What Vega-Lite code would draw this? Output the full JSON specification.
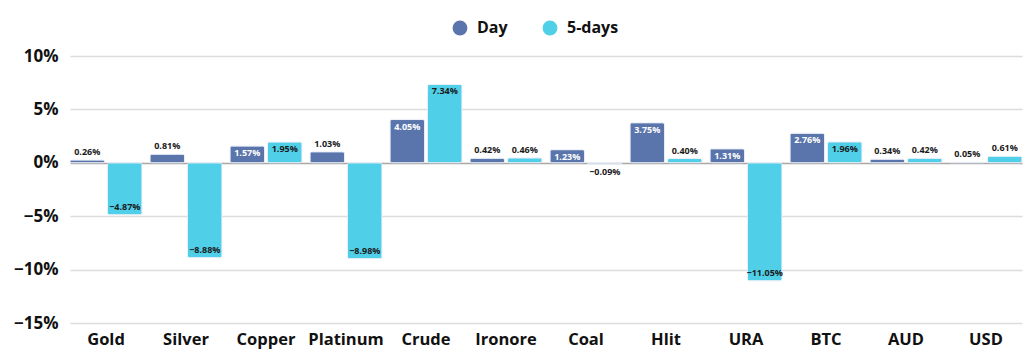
{
  "$schema": "https://vega.github.io/schema/vega-lite/v6.json",
  "autosize": {"type": "none"},
  "width": 952,
  "height": 267,
  "padding": {"left": 70, "top": 56, "right": 2, "bottom": 38},
  "background": "white",
  "config": {
    "view": {"stroke": null},
    "font": "Open Sans",
    "axis": {"labelFont": "Open Sans", "labelFontWeight": "bold", "labelFontSize": 15, "labelColor": "#111"},
    "legend": {"labelFont": "Open Sans"}
  },
  "data": {
    "values": [
      {"asset": "Gold", "series": "Day", "value": 0.0026},
      {"asset": "Gold", "series": "5-days", "value": -0.0487},
      {"asset": "Silver", "series": "Day", "value": 0.0081},
      {"asset": "Silver", "series": "5-days", "value": -0.0888},
      {"asset": "Copper", "series": "Day", "value": 0.0157},
      {"asset": "Copper", "series": "5-days", "value": 0.0195},
      {"asset": "Platinum", "series": "Day", "value": 0.0103},
      {"asset": "Platinum", "series": "5-days", "value": -0.0898},
      {"asset": "Crude", "series": "Day", "value": 0.0405},
      {"asset": "Crude", "series": "5-days", "value": 0.0734},
      {"asset": "Ironore", "series": "Day", "value": 0.0042},
      {"asset": "Ironore", "series": "5-days", "value": 0.0046},
      {"asset": "Coal", "series": "Day", "value": 0.0123},
      {"asset": "Coal", "series": "5-days", "value": -0.0009},
      {"asset": "Hlit", "series": "Day", "value": 0.0375},
      {"asset": "Hlit", "series": "5-days", "value": 0.0040},
      {"asset": "URA", "series": "Day", "value": 0.0131},
      {"asset": "URA", "series": "5-days", "value": -0.1105},
      {"asset": "BTC", "series": "Day", "value": 0.0276},
      {"asset": "BTC", "series": "5-days", "value": 0.0196},
      {"asset": "AUD", "series": "Day", "value": 0.0034},
      {"asset": "AUD", "series": "5-days", "value": 0.0042},
      {"asset": "USD", "series": "Day", "value": 0.0005},
      {"asset": "USD", "series": "5-days", "value": 0.0061}
    ]
  },
  "encoding": {
    "x": {
      "field": "asset", "type": "nominal", "sort": null, "title": null,
      "scale": {"paddingInner": 0.1, "paddingOuter": 0},
      "axis": {"labelAngle": 0, "domain": false, "ticks": false, "labelPadding": 8, "labelFontSize": 16.5}
    },
    "xOffset": {
      "field": "series", "type": "nominal", "sort": ["Day", "5-days"],
      "scale": {"paddingInner": 0.08, "paddingOuter": 0}
    },
    "y": {
      "field": "value", "type": "quantitative", "title": null,
      "scale": {"domain": [-0.15, 0.1], "nice": false, "zero": false},
      "axis": {
        "values": [-0.15, -0.1, -0.05, 0, 0.05, 0.1],
        "format": ".0%",
        "domain": false, "ticks": false, "labelPadding": 12, "labelFontSize": 17,
        "gridColor": {"condition": {"test": "datum.value === 0", "value": "#a8a8a8"}, "value": "#dcdcdc"},
        "gridWidth": 1.5
      }
    }
  },
  "layer": [
    {
      "mark": {"type": "bar", "cornerRadius": 2, "stroke": "#e8eef7", "strokeWidth": 0.8},
      "encoding": {
        "color": {
          "field": "series", "type": "nominal",
          "scale": {"domain": ["Day", "5-days"], "range": ["#5a75ab", "#50cfe9"]},
          "legend": {
            "title": null, "orient": "none", "direction": "horizontal",
            "legendX": 382, "legendY": -36,
            "symbolType": "circle", "symbolSize": 220, "symbolStrokeWidth": 0,
            "labelFontSize": 16, "labelFontWeight": "bold", "labelColor": "#111",
            "columnPadding": 34, "labelOffset": 9
          }
        }
      }
    },
    {
      "transform": [{"filter": "datum.value >= 0 && datum.value < 0.011"}],
      "mark": {"type": "text", "baseline": "bottom", "dy": -3, "fontSize": 9, "fontWeight": "bold", "color": "#1a1a1a"},
      "encoding": {"text": {"field": "value", "format": ".2%"}}
    },
    {
      "transform": [{"filter": "datum.value < 0 && datum.value > -0.011"}],
      "mark": {"type": "text", "baseline": "top", "dy": 4, "fontSize": 9, "fontWeight": "bold", "color": "#1a1a1a"},
      "encoding": {"text": {"field": "value", "format": ".2%"}}
    },
    {
      "transform": [{"filter": "datum.value >= 0.011"}],
      "mark": {"type": "text", "baseline": "top", "dy": 3, "fontSize": 9, "fontWeight": "bold"},
      "encoding": {
        "text": {"field": "value", "format": ".2%"},
        "color": {"condition": {"test": "datum.series === 'Day'", "value": "white"}, "value": "#1a1a1a"}
      }
    },
    {
      "transform": [{"filter": "datum.value <= -0.011"}],
      "mark": {"type": "text", "baseline": "bottom", "dy": -3, "fontSize": 9, "fontWeight": "bold", "color": "#1a1a1a"},
      "encoding": {"text": {"field": "value", "format": ".2%"}}
    }
  ]
}
